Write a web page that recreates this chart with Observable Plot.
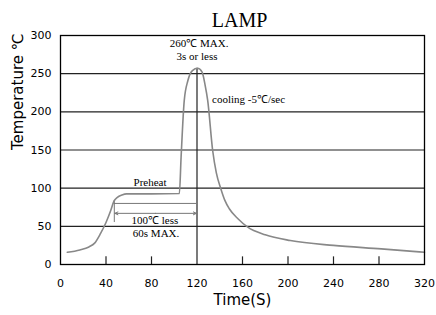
<!DOCTYPE html>
<html><head><meta charset="utf-8">
<script src="https://cdn.jsdelivr.net/npm/d3@7"></script>
<script src="https://cdn.jsdelivr.net/npm/@observablehq/plot@0.6"></script>
<style>body{margin:0;background:#fff}</style>
</head><body><div id="chart"></div>
<script>
const timeS = [6,17,25,30,35,40,44,47,50,54,58,80,104.5,106,108.8,112,116,120.5,124.5,127,129.4,133.8,137,141,144.5,148.4,156,164.6,180,202,240,282,320];
const tempC = [16,19,23,28,40,55,70,83,88,91,92.5,92.5,93,140,215,241,254,257,252,236,215,149,120,99,84,73,60,49,39,31.4,25,20.5,16];
const xTicks = [0,40,80,120,160,200,240,280,320];
const yTicks = [0,50,100,150,200,250,300];
const innerTicks = [40,80,160,200,240,280];
const gridY = [50,100,150,200,250];
const centerLabels = [
  {t:121.8, v:289.5, s:"260℃ MAX."},
  {t:120, v:272.5, s:"3s or less"},
  {t:78.7, v:107, s:"Preheat"},
  {t:83, v:57.6, s:"100℃ less"},
  {t:84, v:40, s:"60s MAX."}
];
const startLabels = [
  {t:133.2, v:216, s:"cooling -5℃/sec"}
];
const curve = timeS.map((t,i)=>({t, v:tempC[i]}));
const serif = "Liberation Serif, Times New Roman, serif";
const sans = "DejaVu Sans, Verdana, sans-serif";

const chart = Plot.plot({
  width: 436, height: 315,
  marginLeft: 60, marginRight: 12, marginTop: 35, marginBottom: 51,
  x: {domain: [0,320]},
  y: {domain: [0,300]},
  style: {fontFamily: sans, background: "#fff"},
  marks: [
    Plot.ruleY(gridY, {stroke: "#222", strokeWidth: 1.2}),
    Plot.ruleX(innerTicks, {y1: 0, y2: 10, stroke: "#222", strokeWidth: 1.2}),
    Plot.ruleX([120], {y1: 0, y2: 257, stroke: "#222", strokeWidth: 1.2}),
    Plot.ruleY([80], {x1: 47, x2: 120, stroke: "#777", strokeWidth: 1}),
    Plot.ruleX([47.3], {y1: 55, y2: 84, stroke: "#777", strokeWidth: 1}),
    Plot.arrow([{x1:83.5,x2:47.8},{x1:83.5,x2:119.5}], {x1:"x1", x2:"x2", y1:67, y2:67, stroke:"#777", strokeWidth:1, headLength:5, headAngle:50}),
    Plot.line(curve, {x: "t", y: "v", curve: "monotone-x", stroke: "#888", strokeWidth: 1.6}),
    Plot.text(centerLabels, {x: "t", y: "v", text: "s", textAnchor: "middle", fontFamily: serif, fontSize: 11, fill: "#000"}),
    Plot.text(startLabels, {x: "t", y: "v", text: "s", textAnchor: "start", fontFamily: serif, fontSize: 11, fill: "#000"}),
    Plot.frame({stroke: "#000", strokeWidth: 1.3}),
    Plot.axisX(xTicks, {tickSize: 0, tickPadding: 15, fontSize: 11, label: null}),
    Plot.axisY(yTicks, {tickSize: 0, tickPadding: 9, fontSize: 11, label: null}),
    Plot.text(["LAMP"], {frameAnchor: "top", lineAnchor: "middle", dy: -15, dx: -3, fontFamily: serif, fontSize: 20, fill: "#000"}),
    Plot.text(["Time(S)"], {frameAnchor: "bottom", lineAnchor: "middle", dy: 36, fontSize: 15, fill: "#000"}),
    Plot.text(["Temperature ℃"], {frameAnchor: "left", rotate: -90, dx: -42, fontSize: 15, fill: "#000"})
  ]
});
document.getElementById("chart").appendChild(chart);
</script>
</body></html>
